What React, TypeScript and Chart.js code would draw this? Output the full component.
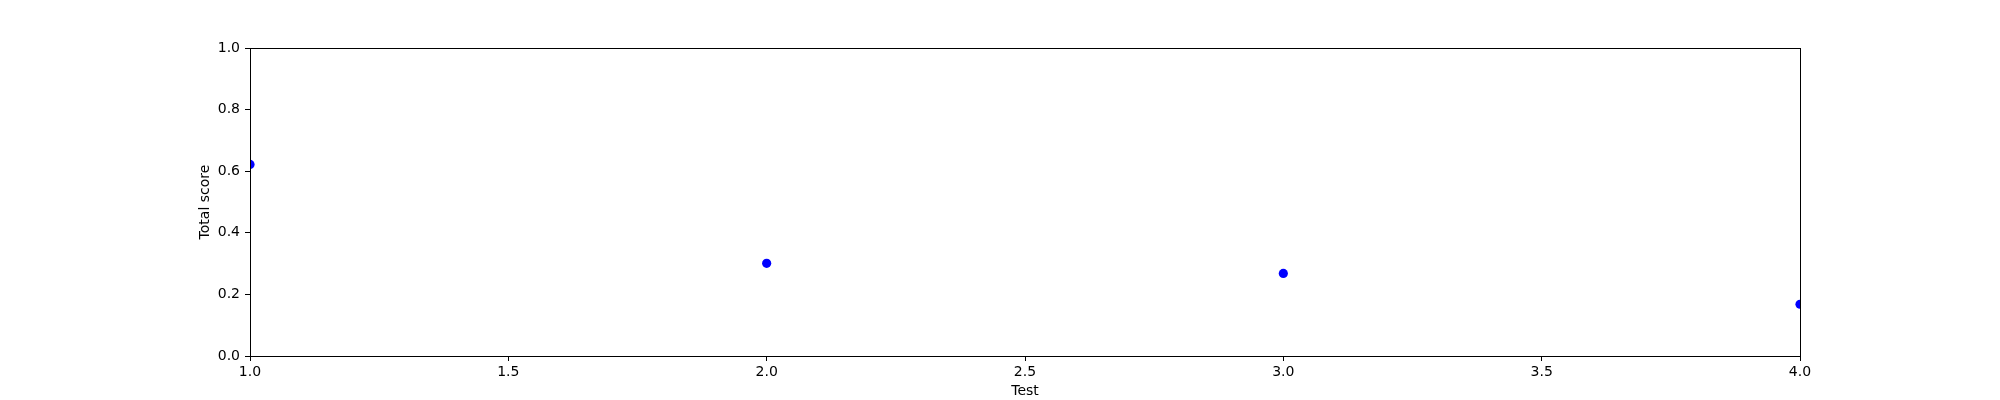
import React, { useEffect, useRef } from "react";
import { Chart, registerables } from "chart.js";

Chart.register(...registerables);

const tests: number[] = [1, 2, 3, 4];
const totalScores: number[] = [0.622, 0.301, 0.268, 0.168];
const xTickValues: number[] = [1.0, 1.5, 2.0, 2.5, 3.0, 3.5, 4.0];
const yTickValues: number[] = [0.0, 0.2, 0.4, 0.6, 0.8, 1.0];

const framePlugin = {
  id: "frame",
  afterDatasetsDraw(chart: any) {
    const { ctx, chartArea } = chart;
    ctx.save();
    ctx.strokeStyle = "#000";
    ctx.lineWidth = 1;
    ctx.strokeRect(
      Math.round(chartArea.left) + 0.5,
      Math.round(chartArea.top) + 0.5,
      Math.round(chartArea.right - chartArea.left),
      Math.round(chartArea.bottom - chartArea.top)
    );
    ctx.restore();
  },
};

export default function App() {
  const ref = useRef<HTMLCanvasElement>(null);
  useEffect(() => {
    document.body.style.margin = "0";
    const font = { family: "'DejaVu Sans', sans-serif", size: 14 };
    const chart = new Chart(ref.current as HTMLCanvasElement, {
      type: "scatter",
      data: {
        datasets: [
          {
            data: tests.map((t, i) => ({ x: t, y: totalScores[i] })),
            backgroundColor: "#0000ff",
            borderColor: "#0000ff",
            pointRadius: 4.6,
            pointBorderWidth: 0,
            clip: 0,
          } as any,
        ],
      },
      options: {
        responsive: false,
        animation: false,
        devicePixelRatio: 1,
        layout: { padding: { left: 193, right: 200, top: 48, bottom: 0 } },
        plugins: {
          legend: { display: false },
          tooltip: { enabled: false },
        },
        scales: {
          x: {
            type: "linear",
            min: 1,
            max: 4,
            afterBuildTicks: (s: any) => {
              s.ticks = xTickValues.map((v) => ({ value: v }));
            },
            afterFit: (s: any) => {
              s.height = 44;
            },
            ticks: {
              color: "#000",
              font,
              padding: 3,
              maxRotation: 0,
              autoSkip: false,
              callback: (v: any) => Number(v).toFixed(1),
            },
            grid: {
              display: true,
              drawOnChartArea: false,
              drawTicks: true,
              tickLength: 5,
              tickColor: "#000",
              tickWidth: 1,
            },
            border: { display: false },
            title: {
              display: true,
              text: "Test",
              color: "#000",
              font,
              padding: { top: 0, bottom: 0 },
            },
          },
          y: {
            type: "linear",
            min: 0,
            max: 1,
            afterBuildTicks: (s: any) => {
              s.ticks = yTickValues.map((v) => ({ value: v }));
            },
            afterFit: (s: any) => {
              s.width = 57;
            },
            ticks: {
              color: "#000",
              font,
              padding: 5,
              autoSkip: false,
              callback: (v: any) => Number(v).toFixed(1),
            },
            grid: {
              display: true,
              drawOnChartArea: false,
              drawTicks: true,
              tickLength: 5,
              tickColor: "#000",
              tickWidth: 1,
            },
            border: { display: false },
            title: {
              display: true,
              text: "Total score",
              color: "#000",
              font,
              padding: { top: 4, bottom: 4 },
            },
          },
        },
      },
      plugins: [framePlugin],
    });
    return () => chart.destroy();
  }, []);
  return (
    <div style={{ width: 2000, height: 400, background: "#fff" }}>
      <canvas ref={ref} width={2000} height={400} style={{ display: "block" }} />
    </div>
  );
}
